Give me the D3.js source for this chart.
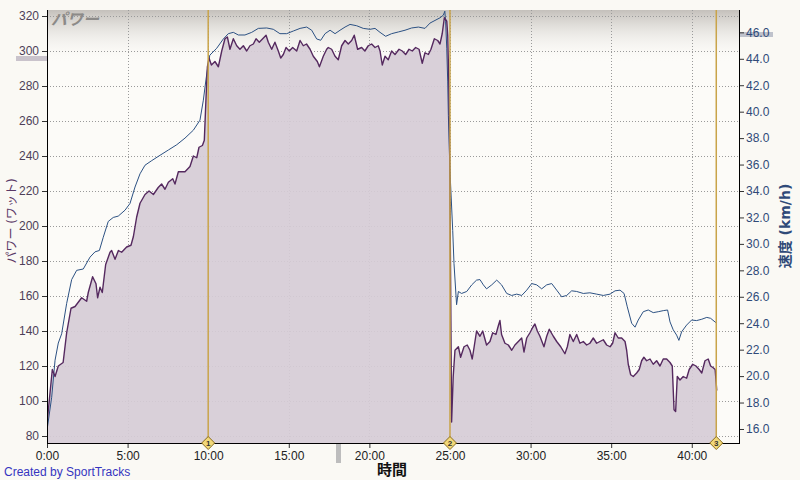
<!DOCTYPE html>
<html>
<head>
<meta charset="utf-8">
<script src="https://cdn.jsdelivr.net/npm/d3@7"></script>
<style>
  body { margin: 0; background: #faf9f4; }
  svg { display: block; font-family: "Liberation Sans", Arial, sans-serif; }
</style>
</head>
<body>
<svg id="chart" width="800" height="480"></svg>
<script>
// elapsed time in minutes / power in watts
const powerTime = [0, 0.33, 0.5, 0.7, 1.0, 1.22, 1.49, 1.74, 2.15, 2.46, 2.56, 2.83, 3.04, 3.14, 3.29, 3.43, 3.64, 3.91, 4.01, 4.22,
  4.43, 4.63, 4.94, 5.21, 5.36, 5.56, 5.77, 6.08, 6.33, 6.6, 6.9, 7.11, 7.32, 7.53, 7.8, 7.94, 8.15, 8.56, 8.87, 9.08,
  9.29, 9.43, 9.64, 9.76, 9.86, 9.95, 10.05, 10.2, 10.42, 10.63, 10.84, 11.04, 11.19, 11.35, 11.56, 11.77, 11.97, 12.18, 12.39, 12.59,
  12.8, 12.97, 13.17, 13.38, 13.59, 13.73, 13.94, 14.14, 14.35, 14.5, 14.66, 14.83, 15.03, 15.24, 15.49, 15.7, 15.9, 16.1, 16.32, 16.52,
  16.77, 16.9, 17.14, 17.35, 17.45, 17.66, 17.87, 18.07, 18.28, 18.49, 18.69, 18.9, 19.06, 19.27, 19.52, 19.72, 19.93, 20.14, 20.35, 20.55,
  20.66, 20.8, 20.97, 21.17, 21.38, 21.59, 21.84, 22.04, 22.25, 22.46, 22.66, 22.87, 23.08, 23.28, 23.45, 23.66, 23.82, 24.03, 24.24, 24.38,
  24.52, 24.65, 24.8, 24.86, 24.92, 24.97, 25.03, 25.1, 25.2, 25.31, 25.52, 25.66, 25.87, 26.07, 26.24, 26.38, 26.5, 26.65, 26.86, 27.03,
  27.27, 27.48, 27.65, 27.85, 28.0, 28.1, 28.2, 28.41, 28.62, 28.83, 29.03, 29.24, 29.45, 29.59, 29.76, 29.96, 30.13, 30.27, 30.42, 30.58,
  30.83, 31.0, 31.16, 31.41, 31.62, 31.87, 32.13, 32.28, 32.44, 32.65, 32.86, 33.06, 33.27, 33.48, 33.68, 33.89, 34.1, 34.3, 34.51, 34.72,
  34.93, 35.09, 35.24, 35.44, 35.65, 35.86, 35.96, 36.06, 36.21, 36.37, 36.58, 36.74, 36.89, 37.03, 37.2, 37.41, 37.61, 37.82, 38.03, 38.23,
  38.44, 38.65, 38.79, 38.9, 39.0, 39.1, 39.27, 39.47, 39.68, 39.84, 40.06, 40.26, 40.46, 40.62, 40.82, 41.02, 41.17, 41.33, 41.45, 41.55]
const powerWatts = [87, 118, 114, 120, 122, 139, 153, 154, 159, 157, 162, 171, 167, 159, 165, 162, 178, 185, 186, 181,
  186, 185, 188, 189, 194, 205, 213, 218, 220, 218, 222, 224, 221, 225, 227, 224, 231, 231, 234, 240,
  239, 245, 246, 249, 272, 291, 296, 292, 294, 291, 300, 307, 308, 301, 307, 303, 301, 303, 300, 303,
  304, 307, 305, 307, 309, 305, 301, 305, 300, 296, 298, 302, 300, 302, 300, 306, 303, 304, 301, 297,
  294, 291, 297, 301, 302, 301, 297, 295, 303, 306, 304, 306, 309, 301, 302, 300, 303, 304, 302, 303,
  300, 292, 297, 295, 300, 298, 301, 300, 298, 301, 300, 302, 301, 293, 299, 298, 301, 307, 306, 304,
  310, 319, 317, 309, 285, 255, 180, 88, 114, 129, 131, 125, 131, 132, 129, 124, 131, 140, 137, 140,
  132, 134, 139, 138, 143, 146, 138, 133, 132, 129, 132, 134, 136, 128, 136, 139, 142, 144, 140, 137,
  131, 137, 141, 137, 134, 131, 127, 131, 138, 134, 138, 133, 134, 132, 133, 136, 133, 134, 135, 132,
  131, 133, 139, 136, 136, 134, 129, 121, 115, 114, 116, 118, 123, 125, 123, 124, 121, 123, 120, 124,
  124, 122, 120, 95, 94, 114, 112, 114, 113, 118, 121, 120, 118, 116, 123, 124, 120, 119, 118, 106]

// elapsed time in minutes / speed in km/h
const speedTime = [0, 0.29, 0.5, 0.7, 0.91, 1.22, 1.53, 1.84, 2.25, 2.67, 2.98, 3.25, 3.49, 3.8, 4.11, 4.42, 4.84, 5.15, 5.46, 5.77,
  6.08, 6.5, 7.01, 7.53, 8.05, 8.56, 9.08, 9.49, 9.7, 9.86, 10.0, 10.1, 10.53, 10.94, 11.25, 11.56, 11.87, 12.28, 12.7, 13.11,
  13.63, 14.04, 14.45, 14.87, 15.28, 15.7, 16.11, 16.42, 16.73, 16.98, 17.25, 17.56, 17.87, 18.18, 18.49, 18.8, 19.21, 19.62, 20.04, 20.35,
  20.66, 21.01, 21.38, 21.8, 22.21, 22.62, 23.04, 23.45, 23.76, 24.07, 24.38, 24.59, 24.68, 24.73, 24.8, 24.86, 24.9, 25.0, 25.17, 25.25,
  25.41, 25.52, 25.72, 26.04, 26.35, 26.65, 26.86, 27.07, 27.27, 27.59, 27.9, 28.2, 28.52, 28.83, 29.14, 29.45, 29.76, 30.07, 30.38, 30.69,
  31.0, 31.31, 31.62, 31.93, 32.24, 32.55, 32.86, 33.27, 33.68, 34.1, 34.51, 34.93, 35.24, 35.55, 35.8, 36.0, 36.27, 36.48, 36.68, 36.99,
  37.3, 37.61, 37.92, 38.23, 38.5, 38.65, 38.85, 39.06, 39.2, 39.37, 39.68, 39.99, 40.3, 40.62, 40.93, 41.17, 41.44, 41.55]
const speedKmh = [15.9, 18.4, 21.2, 22.5, 23.2, 25.5, 27.3, 28.0, 28.1, 29.0, 29.4, 29.5, 30.5, 31.7, 32.0, 32.1, 32.55, 33.06, 34.3, 35.3,
  35.95, 36.3, 36.7, 37.1, 37.5, 38.0, 38.6, 39.36, 40.87, 42.4, 43.6, 44.27, 44.8, 45.5, 45.9, 46.0, 45.8, 45.8, 46.0, 46.3,
  46.33, 46.23, 45.9, 45.9, 46.1, 46.3, 46.4, 46.16, 45.5, 45.4, 45.9, 46.16, 45.9, 46.16, 46.4, 46.6, 46.5, 46.3, 46.23, 46.3,
  46.0, 45.7, 45.9, 46.03, 46.16, 46.33, 46.4, 46.3, 46.7, 46.9, 47.1, 47.3, 47.6, 46.8, 44.8, 42.25, 39.7, 35.5, 31.0, 28.5,
  25.4, 26.4, 26.25, 26.4, 26.9, 27.26, 27.3, 26.9, 26.6, 26.9, 27.26, 26.9, 26.25, 26.1, 26.2, 26.1, 26.5, 27.0, 26.9, 26.6,
  26.9, 27.0, 26.5, 26.0, 26.1, 26.45, 26.4, 26.25, 26.3, 26.2, 26.1, 26.2, 26.45, 26.5, 26.25, 25.24, 24.0, 23.7, 24.24, 24.87,
  25.0, 24.8, 24.87, 24.95, 25.0, 24.1, 23.5, 23.1, 22.7, 23.35, 23.86, 24.24, 24.2, 24.3, 24.44, 24.37, 24.1, 24.0]

const timeTicks = [0, 5, 10, 15, 20, 25, 30, 35, 40]
const powerTicks = [80, 100, 120, 140, 160, 180, 200, 220, 240, 260, 280, 300, 320]
const speedTicks = [16, 18, 20, 22, 24, 26, 28, 30, 32, 34, 36, 38, 40, 42, 44, 46]
const lapMarks = [10, 25, 41.52]
const lapLabels = ['1', '2', '3']

const power = powerTime.map((t, i) => ({ t, v: powerWatts[i] }))
const speed = speedTime.map((t, i) => ({ t, v: speedKmh[i] }))

const plotL = 47, plotR = 739, plotT = 10, plotB = 443
const svg = d3.select('#chart')

const x = d3.scaleLinear().domain([0, 42.93]).range([plotL, plotR])
const yPower = d3.scaleLinear().domain([76, 323.43]).range([plotB, plotT])
const ySpeed = d3.scaleLinear().domain([14.94, 47.69]).range([plotB, plotT])

const defs = svg.append('defs')
const grad = defs.append('linearGradient')
  .attr('id', 'topShade').attr('x1', 0).attr('y1', 0).attr('x2', 0).attr('y2', 1)
grad.append('stop').attr('offset', '0%').attr('stop-color', '#c4c0bb')
grad.append('stop').attr('offset', '100%').attr('stop-color', '#fcfbf8').attr('stop-opacity', 0)
defs.append('clipPath').attr('id', 'plotClip')
  .append('rect').attr('x', plotL).attr('y', plotT).attr('width', plotR - plotL).attr('height', plotB - plotT)

// plot background
svg.append('rect')
  .attr('x', plotL).attr('y', plotT).attr('width', plotR - plotL).attr('height', plotB - plotT)
  .attr('fill', '#fcfbf8')
svg.append('rect')
  .attr('x', plotL).attr('y', plotT).attr('width', plotR - plotL).attr('height', 52)
  .attr('fill', 'url(#topShade)')

// grid
const grid = svg.append('g').attr('stroke', '#9a9a9a').attr('stroke-dasharray', '1,2').attr('stroke-width', 1)
grid.selectAll('.hg').data(powerTicks).join('line')
  .attr('x1', plotL).attr('x2', plotR)
  .attr('y1', d => Math.round(yPower(d)) + 0.5).attr('y2', d => Math.round(yPower(d)) + 0.5)
grid.selectAll('.vg').data(timeTicks.slice(1)).join('line')
  .attr('y1', plotT).attr('y2', plotB)
  .attr('x1', d => Math.round(x(d)) + 0.5).attr('x2', d => Math.round(x(d)) + 0.5)

const plot = svg.append('g').attr('clip-path', 'url(#plotClip)')

const area = d3.area()
  .x(d => x(d.t))
  .y0(plotB)
  .y1(d => yPower(d.v))
const powerLine = d3.line().x(d => x(d.t)).y(d => yPower(d.v))
const speedLine = d3.line().x(d => x(d.t)).y(d => ySpeed(d.v))

plot.append('path').attr('d', area(power)).attr('fill', '#d6ccd6').attr('fill-opacity', 0.92)
plot.append('path').attr('d', speedLine(speed))
  .attr('fill', 'none').attr('stroke', '#2c5183').attr('stroke-width', 1)
plot.append('path').attr('d', powerLine(power))
  .attr('fill', 'none').attr('stroke', '#55295f').attr('stroke-width', 1.4).attr('stroke-linejoin', 'round')

// lap lines
plot.selectAll('.lap').data(lapMarks).join('line')
  .attr('x1', d => x(d)).attr('x2', d => x(d))
  .attr('y1', plotT).attr('y2', plotB)
  .attr('stroke', '#c9a44a').attr('stroke-width', 1.5)

// top title inside plot
svg.append('text')
  .attr('x', 51).attr('y', 25)
  .attr('font-size', 16).attr('font-style', 'italic').attr('font-weight', 'bold')
  .attr('font-family', '"Noto Sans CJK JP", sans-serif')
  .attr('fill', '#8c8a88')
  .text('パワー')

// slider marks
svg.append('rect').attr('x', 16).attr('y', 56).attr('width', 31).attr('height', 5).attr('fill', '#c9c3cb')
svg.append('rect').attr('x', 739).attr('y', 32).attr('width', 34).attr('height', 5).attr('fill', '#bfc3cc')
svg.append('rect').attr('x', 336).attr('y', 443).attr('width', 5).attr('height', 20).attr('fill', '#bdbdbd')

// axes
const axisLeft = d3.axisLeft(yPower).tickValues(powerTicks).tickSize(5).tickSizeOuter(0).tickPadding(3)
const axisRight = d3.axisRight(ySpeed).tickValues(speedTicks).tickSize(5).tickSizeOuter(0).tickPadding(2)
  .tickFormat(d3.format('.1f'))
const axisBottom = d3.axisBottom(x).tickValues(timeTicks).tickSize(5).tickSizeOuter(0).tickPadding(3)
  .tickFormat(d => d + ':00')

const gl = svg.append('g').attr('transform', `translate(${plotL},0)`).call(axisLeft)
const gr = svg.append('g').attr('transform', `translate(${plotR},0)`).call(axisRight)
const gb = svg.append('g').attr('transform', `translate(0,${plotB})`).call(axisBottom)
;[gl, gr, gb].forEach(g => {
  g.select('.domain').remove()
  g.selectAll('text').attr('font-size', 12).attr('font-family', '"Liberation Sans", Arial, sans-serif')
})
gl.selectAll('.tick line').attr('stroke', '#333')
gl.selectAll('text').attr('fill', '#4d3f58')
gr.selectAll('.tick line').attr('stroke', '#333')
gr.selectAll('text').attr('fill', '#2f4a78')
gb.selectAll('.tick line').attr('stroke', '#333')
gb.selectAll('text').attr('fill', '#222')

// axis lines
const frame = svg.append('g').attr('stroke', '#000').attr('stroke-width', 1)
frame.append('line').attr('x1', plotL + 0.5).attr('x2', plotL + 0.5).attr('y1', plotT).attr('y2', plotB + 0.5)
frame.append('line').attr('x1', plotR + 0.5).attr('x2', plotR + 0.5).attr('y1', plotT).attr('y2', plotB + 0.5)
frame.append('line').attr('x1', plotL).attr('x2', plotR + 1).attr('y1', plotB + 0.5).attr('y2', plotB + 0.5)

// lap diamonds
const dia = svg.append('g').selectAll('g').data(lapMarks).join('g')
  .attr('transform', d => `translate(${x(d)},${plotB})`)
dia.append('path').attr('d', 'M0,-6.5L6.5,0L0,6.5L-6.5,0Z')
  .attr('fill', '#f2d878').attr('stroke', '#8a6d1e').attr('stroke-width', 1)
dia.append('text').attr('y', 3).attr('text-anchor', 'middle')
  .attr('font-size', 8).attr('font-weight', 'bold').attr('fill', '#333')
  .text((d, i) => lapLabels[i])

// axis titles
svg.append('text')
  .attr('transform', 'translate(16,221) rotate(-90)')
  .attr('text-anchor', 'middle')
  .attr('font-size', 12).attr('font-family', '"DejaVu Sans", "Noto Sans CJK JP", sans-serif')
  .attr('fill', '#5a3866')
  .text('パワー (ワット)')
svg.append('text')
  .attr('transform', 'translate(790,226) rotate(-90)')
  .attr('text-anchor', 'middle')
  .attr('font-size', 14).attr('font-weight', 'bold').attr('font-family', '"DejaVu Sans", "Noto Sans CJK JP", sans-serif')
  .attr('fill', '#2f4a78')
  .text('速度 (km/h)')
svg.append('text')
  .attr('x', 392).attr('y', 475)
  .attr('text-anchor', 'middle')
  .attr('font-size', 15).attr('font-weight', 'bold').attr('font-family', '"Noto Sans CJK JP", sans-serif')
  .attr('fill', '#111')
  .text('時間')
svg.append('text')
  .attr('x', 4).attr('y', 476)
  .attr('font-size', 12)
  .attr('fill', '#3535c0')
  .text('Created by SportTracks')
</script>
</body>
</html>
